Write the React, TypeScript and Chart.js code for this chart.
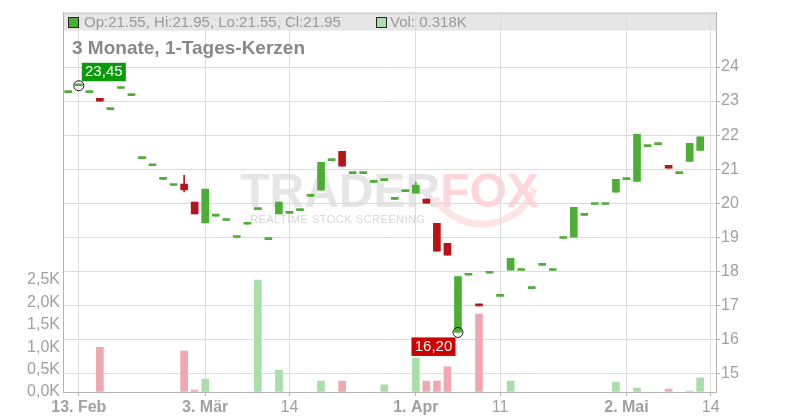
import React, { useEffect, useRef } from 'react';
import { Chart, registerables } from 'chart.js';

Chart.register(...registerables);

const FONT = '"Liberation Sans", Arial, Helvetica, sans-serif';

const dates = [
  '2025-02-12', '2025-02-13', '2025-02-14', '2025-02-17', '2025-02-18', '2025-02-19', '2025-02-20', '2025-02-21',
  '2025-02-24', '2025-02-25', '2025-02-26', '2025-02-27', '2025-02-28',
  '2025-03-03', '2025-03-04', '2025-03-05', '2025-03-06', '2025-03-07', '2025-03-11', '2025-03-12', '2025-03-13', '2025-03-14',
  '2025-03-17', '2025-03-18', '2025-03-19', '2025-03-20', '2025-03-21', '2025-03-24', '2025-03-25', '2025-03-26',
  '2025-03-27', '2025-03-28', '2025-03-31',
  '2025-04-01', '2025-04-02', '2025-04-03', '2025-04-04', '2025-04-07', '2025-04-08', '2025-04-09', '2025-04-10', '2025-04-11',
  '2025-04-14', '2025-04-15', '2025-04-16', '2025-04-17', '2025-04-22', '2025-04-23', '2025-04-24', '2025-04-25',
  '2025-04-28', '2025-04-29', '2025-04-30',
  '2025-05-02', '2025-05-05', '2025-05-06', '2025-05-07', '2025-05-08', '2025-05-09', '2025-05-12', '2025-05-13', '2025-05-14',
];

const opens = [
  23.25, 23.45, 23.25, 23.08, 22.75, 23.37, 23.16, 21.31, 21.10, 20.70, 20.52, 20.56, 20.03,
  19.42, 19.62, 19.49, 18.99, 19.38, 19.81, 18.93, 19.68, 19.70,
  19.78, 20.20, 20.38, 21.25, 21.52, 20.87, 20.87, 20.61, 20.66, 20.11, 20.34,
  20.29, 20.12, 19.41, 18.82, 16.20, 17.88, 17.03, 17.94, 17.26,
  18.03, 18.02, 17.49, 18.17, 18.02, 18.96, 19.00, 19.64, 19.96, 19.96, 20.32,
  20.69, 20.64, 21.66, 21.72, 21.11, 20.87, 21.23, 21.55, null,
];
const closes = [
  23.25, 23.45, 23.25, 23.00, 22.75, 23.37, 23.16, 21.31, 21.10, 20.70, 20.52, 20.39, 19.68,
  20.41, 19.62, 19.49, 18.99, 19.38, 19.81, 18.93, 20.03, 19.70,
  19.78, 20.20, 21.20, 21.25, 21.09, 20.87, 20.87, 20.61, 20.66, 20.11, 20.34,
  20.53, 20.00, 18.59, 18.47, 17.84, 17.88, 16.98, 17.94, 17.26,
  18.38, 18.02, 17.49, 18.17, 18.02, 18.96, 19.88, 19.64, 19.96, 19.96, 20.70,
  20.69, 22.02, 21.66, 21.72, 21.03, 20.87, 21.76, 21.95, null,
];
const highs = [
  23.25, 23.45, 23.25, 23.08, 22.75, 23.37, 23.16, 21.31, 21.10, 20.70, 20.52, 20.82, 20.03,
  20.41, 19.62, 19.49, 18.99, 19.38, 19.81, 18.93, 20.03, 19.70,
  19.78, 20.20, 21.20, 21.25, 21.52, 20.87, 20.87, 20.61, 20.66, 20.11, 20.34,
  20.62, 20.12, 19.41, 18.82, 17.84, 17.88, 17.03, 17.94, 17.26,
  18.38, 18.02, 17.49, 18.17, 18.02, 18.96, 19.88, 19.64, 19.96, 19.96, 20.70,
  20.69, 22.02, 21.66, 21.72, 21.11, 20.87, 21.76, 21.95, null,
];
const lows = [
  23.25, 23.45, 23.25, 23.00, 22.75, 23.37, 23.16, 21.31, 21.10, 20.70, 20.52, 20.33, 19.68,
  19.42, 19.62, 19.49, 18.99, 19.38, 19.81, 18.93, 19.68, 19.70,
  19.78, 20.20, 20.38, 21.25, 21.09, 20.87, 20.87, 20.61, 20.66, 20.11, 20.34,
  20.29, 20.00, 18.59, 18.47, 16.20, 17.88, 16.98, 17.94, 17.26,
  18.03, 18.02, 17.49, 18.17, 18.02, 18.96, 19.00, 19.64, 19.96, 19.96, 20.32,
  20.69, 20.64, 21.66, 21.72, 21.03, 20.87, 21.23, 21.55, null,
];
const volumes = [
  0, 0, 0, 1000, 0, 0, 0, 0, 0, 0, 0, 915, 45,
  290, 0, 0, 0, 0, 2500, 0, 490, 0,
  0, 0, 245, 0, 245, 0, 0, 0, 160, 0, 0,
  760, 245, 245, 560, 0, 0, 1740, 0, 0,
  245, 0, 0, 0, 0, 0, 0, 0, 0, 0, 220,
  0, 90, 0, 0, 65, 0, 20, 318, null,
];

const tickDates = ['2025-02-13', '2025-03-03', '2025-03-14', '2025-04-01', '2025-04-11', '2025-05-02', '2025-05-14'];
const tickLabels = ['13. Feb', '3. Mär', '14', '1. Apr', '11', '2. Mai', '14'];
const tickBold = [true, true, false, true, false, true, false];
const priceTicks = [15, 16, 17, 18, 19, 20, 21, 22, 23, 24];
const volumeTicks = [0, 500, 1000, 1500, 2000, 2500];

const GREEN = '#4cae34';
const RED = '#b81418';
const VOL_GREEN = '#aadea9';
const VOL_RED = '#efa8af';
const TICK_COLOR = '#a0a0a0';
const GRID = '#dcdcdc';
const AXIS = '#b4b4b4';

const fmt = (v: number) => v.toFixed(2).replace('.', ',');

const decoPlugin = {
  id: 'deco',
  beforeDraw(chart: any) {
    const { ctx, chartArea: a } = chart;
    ctx.save();
    ctx.fillStyle = '#ffffff';
    ctx.fillRect(0, 0, chart.width, chart.height);
    // watermark
    const cx = (a.left + a.right) / 2;
    ctx.font = `bold 48px ${FONT}`;
    ctx.textBaseline = 'alphabetic';
    const w1 = ctx.measureText('TRADER').width;
    const w2 = ctx.measureText('FOX').width;
    const x0 = cx - (w1 + w2) / 2;
    // fox tail swoosh
    ctx.strokeStyle = 'rgba(255,205,210,0.55)';
    ctx.lineWidth = 7;
    ctx.beginPath();
    ctx.arc(x0 + w1 + 42, 168, 56, 0.12 * Math.PI, 0.82 * Math.PI);
    ctx.stroke();
    ctx.fillStyle = 'rgb(230,230,230)';
    ctx.fillText('TRADER', x0, 207);
    ctx.fillStyle = 'rgb(255,214,219)';
    ctx.fillText('FOX', x0 + w1, 207);
    ctx.font = `11px ${FONT}`;
    (ctx as any).letterSpacing = '0.5px';
    ctx.fillStyle = 'rgb(215,215,215)';
    ctx.fillText('REALTIME STOCK SCREENING', x0 + 10, 223);
    (ctx as any).letterSpacing = '0px';
    // legend band
    ctx.fillStyle = '#e6e6e6';
    ctx.fillRect(a.left, a.top, a.right - a.left, 18);
    ctx.restore();
  },
  afterDraw(chart: any) {
    const { ctx, chartArea: a, scales } = chart;
    const xs = scales.x;
    const ps = scales.price;
    ctx.save();
    ctx.strokeStyle = '#c4c4c4';
    ctx.lineWidth = 1;
    ctx.beginPath();
    ctx.moveTo(a.left, a.top + 0.5);
    ctx.lineTo(a.right, a.top + 0.5);
    ctx.stroke();

    // legend
    let last = opens.length - 1;
    while (last > 0 && opens[last] == null) last--;
    ctx.textBaseline = 'alphabetic';
    ctx.font = `15px ${FONT}`;
    ctx.fillStyle = GREEN;
    ctx.fillRect(a.left + 5.5, 17.5, 10, 10);
    ctx.strokeStyle = '#222';
    ctx.strokeRect(a.left + 5.5, 17.5, 10, 10);
    ctx.fillStyle = '#999999';
    ctx.fillText(
      `Op:${(opens[last] as number).toFixed(2)}, Hi:${(highs[last] as number).toFixed(2)}, Lo:${(lows[last] as number).toFixed(2)}, Cl:${(closes[last] as number).toFixed(2)}`,
      a.left + 21, 27
    );
    ctx.fillStyle = VOL_GREEN;
    ctx.fillRect(376.5, 17.5, 10, 10);
    ctx.strokeRect(376.5, 17.5, 10, 10);
    ctx.fillStyle = '#999999';
    ctx.fillText(`Vol: ${((volumes[last] as number) / 1000).toFixed(3)}K`, 390, 27);

    // title
    ctx.font = `bold 19px ${FONT}`;
    ctx.fillStyle = '#888888';
    ctx.fillText('3 Monate, 1-Tages-Kerzen', a.left + 9, 54);

    // high / low markers
    let hi = 0, lo = 0;
    highs.forEach((h, i) => { if (h != null && h > (highs[hi] as number)) hi = i; });
    lows.forEach((l, i) => { if (l != null && l < (lows[lo] as number)) lo = i; });
    const hx = xs.getPixelForValue(hi), hy = ps.getPixelForValue(highs[hi]);
    const lx = xs.getPixelForValue(lo), ly = ps.getPixelForValue(lows[lo]);

    ctx.font = `15px ${FONT}`;
    ctx.textAlign = 'center';
    ctx.textBaseline = 'middle';
    ctx.fillStyle = '#0b9a0b';
    ctx.fillRect(hx + 3, hy - 23, 44, 18.5);
    ctx.fillStyle = '#ffffff';
    ctx.fillText(fmt(highs[hi] as number), hx + 25, hy - 13.5);
    ctx.fillStyle = '#cc0000';
    ctx.fillRect(lx - 46.5, ly + 5, 44, 18.5);
    ctx.fillStyle = '#ffffff';
    ctx.fillText(fmt(lows[lo] as number), lx - 24.5, ly + 14.5);

    ctx.strokeStyle = '#111';
    ctx.lineWidth = 1;
    for (const [cx, cy] of [[hx, hy], [lx, ly]]) {
      ctx.beginPath();
      ctx.arc(cx, cy, 5, 0, Math.PI * 2);
      ctx.stroke();
    }
    ctx.restore();
  },
};

export default function App() {
  const ref = useRef<HTMLCanvasElement>(null);
  useEffect(() => {
    const canvas = ref.current as HTMLCanvasElement;
    const candleColors = opens.map((o, i) => (o == null ? GREEN : (closes[i] as number) >= o ? GREEN : RED));
    const volColors = opens.map((o, i) => (o == null ? VOL_GREEN : (closes[i] as number) >= o ? VOL_GREEN : VOL_RED));
    const bodyData = opens.map((o, i) => (o == null ? null : [o, closes[i]]));
    const wickData = opens.map((o, i) => (o == null ? null : [lows[i], highs[i]]));
    const volData = volumes.map((v) => (v ? v : null));
    const tickIdx = tickDates.map((d) => dates.indexOf(d));

    const chart = new Chart(canvas, {
      type: 'bar',
      data: {
        labels: dates,
        datasets: [
          { data: bodyData as any, yAxisID: 'price', backgroundColor: candleColors, barThickness: 7, minBarLength: 2, grouped: false, order: 0 },
          { data: wickData as any, yAxisID: 'price', backgroundColor: candleColors, barThickness: 1, grouped: false, order: 1 },
          { data: volData as any, yAxisID: 'vol', backgroundColor: volColors, barThickness: 7, grouped: false, order: 2 },
        ],
      },
      options: {
        responsive: false,
        animation: false,
        devicePixelRatio: 1,
        events: [],
        layout: { padding: { top: 12, left: 0, right: 0, bottom: 0 } },
        plugins: { legend: { display: false }, tooltip: { enabled: false } },
        scales: {
          x: {
            type: 'category',
            offset: true,
            grid: { color: GRID, offset: false, drawTicks: true, tickLength: 4, tickColor: AXIS },
            border: { color: AXIS },
            ticks: {
              autoSkip: false,
              maxRotation: 0,
              padding: 2,
              color: TICK_COLOR,
              font: (c: any) => ({ family: FONT, size: 16, weight: tickBold[c.index] ? 'bold' : 'normal' }),
              callback: (_v: any, i: number) => tickLabels[i],
            },
            afterBuildTicks: (s: any) => { s.ticks = tickIdx.map((v) => ({ value: v })); },
            afterFit: (s: any) => { s.height = 28; },
          },
          price: {
            type: 'linear',
            position: 'right',
            min: 14.45,
            max: 25.6,
            grid: { color: GRID, drawTicks: true, tickLength: 4, tickColor: AXIS },
            border: { color: AXIS },
            ticks: { color: TICK_COLOR, padding: 1, font: { family: FONT, size: 16 } },
            afterBuildTicks: (s: any) => { s.ticks = priceTicks.map((v) => ({ value: v })); },
            afterFit: (s: any) => { s.width = 84; },
          },
          vol: {
            type: 'linear',
            position: 'left',
            min: 0,
            max: 8470,
            grid: { drawOnChartArea: false, drawTicks: false },
            border: { color: AXIS },
            ticks: {
              color: TICK_COLOR,
              padding: 3,
              font: { family: FONT, size: 16 },
              callback: (v: any) => (Number(v) / 1000).toFixed(1).replace('.', ',') + 'K',
            },
            afterBuildTicks: (s: any) => { s.ticks = volumeTicks.map((v) => ({ value: v })); },
            afterFit: (s: any) => { s.width = 63; },
          },
        },
      },
      plugins: [decoPlugin],
    } as any);
    return () => chart.destroy();
  }, []);

  return (
    <div style={{ position: 'absolute', left: 0, top: 0, width: 800, height: 420 }}>
      <canvas ref={ref} width={800} height={420} style={{ display: 'block' }} />
    </div>
  );
}
